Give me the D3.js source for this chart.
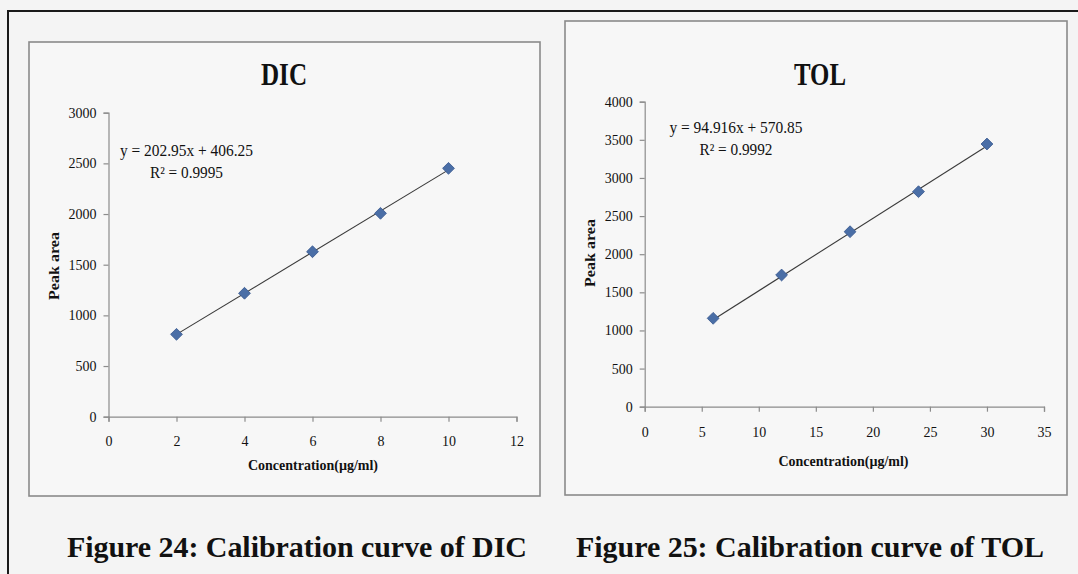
<!DOCTYPE html>
<html>
<head>
<meta charset="utf-8">
<title>Calibration curves</title>
<script src="https://cdn.jsdelivr.net/npm/d3@7"></script>
<style>
  body { margin: 0; background: #f4f4f4; }
  svg { display: block; }
  svg text { font-family: "Liberation Serif", "Times New Roman", serif; fill: #111; }
</style>
</head>
<body>
<script>
  // data
  var dicConc = [2, 4, 6, 8, 10],
    dicArea = [813, 1218, 1628, 2007, 2451],
    dicXTicks = [0, 2, 4, 6, 8, 10, 12],
    dicYTicks = [0, 500, 1000, 1500, 2000, 2500, 3000],
    dicFit = [202.95, 406.25, 0.9995]; // slope, intercept, R2

  var tolConc = [6, 12, 18, 24, 30],
    tolArea = [1159, 1727, 2295, 2820, 3445],
    tolXTicks = [0, 5, 10, 15, 20, 25, 30, 35],
    tolYTicks = [0, 500, 1000, 1500, 2000, 2500, 3000, 3500, 4000],
    tolFit = [94.916, 570.85, 0.9992];

  var width = 1078, height = 574,
    serif = '"Liberation Serif", "Times New Roman", serif';

  var svg = d3.select('body').append('svg')
    .attr('width', width)
    .attr('height', height);

  svg.append('rect')
    .attr('width', width).attr('height', height)
    .attr('fill', '#f4f4f4');

  // outer frame (top and left edge only visible)
  svg.append('path')
    .attr('d', 'M8,574V11H1078')
    .attr('fill', 'none')
    .attr('stroke', '#1a1a1a')
    .attr('stroke-width', 2);

  /**
   * draw one calibration panel
   */
  function drawPanel(p) {
    var g = svg.append('g').attr('font-family', serif);

    g.append('rect')
      .attr('x', p.box[0]).attr('y', p.box[1])
      .attr('width', p.box[2] - p.box[0])
      .attr('height', p.box[3] - p.box[1])
      .attr('fill', '#f7f7f7')
      .attr('stroke', '#8a8a8a')
      .attr('stroke-width', 1.6);

    var x = d3.scaleLinear()
      .domain(d3.extent(p.xTicks))
      .range(p.xRange);
    var y = d3.scaleLinear()
      .domain(d3.extent(p.yTicks))
      .range(p.yRange);

    var xAxis = d3.axisBottom(x).tickValues(p.xTicks)
      .tickFormat(d3.format('d'))
      .tickSize(5).tickPadding(p.xPad).tickSizeOuter(5);
    var yAxis = d3.axisLeft(y).tickValues(p.yTicks)
      .tickFormat(d3.format('d'))
      .tickSize(5).tickPadding(7).tickSizeOuter(5);

    var gx = g.append('g')
      .attr('transform', 'translate(0,' + p.yRange[0] + ')')
      .call(xAxis);
    var gy = g.append('g')
      .attr('transform', 'translate(' + p.xRange[0] + ',0)')
      .call(yAxis);

    [gx, gy].forEach(function (a) {
      a.attr('font-family', serif).attr('font-size', 14);
      a.selectAll('path, line').attr('stroke', '#8c8c8c').attr('stroke-width', 1.2);
      a.selectAll('text').attr('fill', '#222');
    });

    // trend line from fitted equation
    var fx = d3.extent(p.conc);
    var line = d3.line()
      .x(function (d) { return x(d); })
      .y(function (d) { return y(p.fit[0] * d + p.fit[1]); });
    g.append('path')
      .datum(fx)
      .attr('d', line)
      .attr('fill', 'none')
      .attr('stroke', '#3a3a3a')
      .attr('stroke-width', 1.1);

    // diamond markers
    g.selectAll('.pt')
      .data(p.conc)
      .join('path')
      .attr('class', 'pt')
      .attr('d', d3.symbol(d3.symbolSquare, 70))
      .attr('transform', function (d, i) {
        return 'translate(' + x(d) + ',' + y(p.area[i]) + ') rotate(45)';
      })
      .attr('fill', '#4a6ea6')
      .attr('stroke', '#3a5a90')
      .attr('stroke-width', 0.8);

    // title
    g.append('text')
      .attr('x', p.title[1]).attr('y', 85)
      .attr('text-anchor', 'middle')
      .attr('font-size', 32)
      .attr('font-weight', 'bold')
      .attr('textLength', p.title[2])
      .attr('lengthAdjust', 'spacingAndGlyphs')
      .text(p.title[0]);

    // equation
    g.append('text')
      .attr('x', p.eq[0]).attr('y', p.eq[1])
      .attr('text-anchor', 'middle')
      .attr('font-size', 16)
      .attr('textLength', 133)
      .attr('lengthAdjust', 'spacingAndGlyphs')
      .text('y = ' + p.fit[0] + 'x + ' + p.fit[1]);
    g.append('text')
      .attr('x', p.eq[0]).attr('y', p.eq[1] + 22)
      .attr('text-anchor', 'middle')
      .attr('font-size', 16)
      .attr('textLength', 73)
      .attr('lengthAdjust', 'spacingAndGlyphs')
      .text('R\u00b2 = ' + p.fit[2]);

    // axis titles
    g.append('text')
      .attr('x', p.xTitle[0]).attr('y', p.xTitle[1])
      .attr('text-anchor', 'middle')
      .attr('font-size', 15)
      .attr('font-weight', 'bold')
      .attr('textLength', 130)
      .attr('lengthAdjust', 'spacingAndGlyphs')
      .text('Concentration(\u00b5g/ml)');
    g.append('text')
      .attr('transform', 'translate(' + p.yTitle[0] + ',' + p.yTitle[1] + ') rotate(-90)')
      .attr('text-anchor', 'middle')
      .attr('font-size', 15)
      .attr('font-weight', 'bold')
      .attr('textLength', 68)
      .attr('lengthAdjust', 'spacingAndGlyphs')
      .text('Peak area');

    // caption under the panel
    svg.append('text')
      .attr('x', p.caption[1]).attr('y', 557)
      .attr('text-anchor', 'middle')
      .attr('font-family', serif)
      .attr('font-size', 30)
      .attr('font-weight', 'bold')
      .attr('textLength', p.caption[2])
      .attr('lengthAdjust', 'spacing')
      .text(p.caption[0]);
  }

  drawPanel({
    conc: dicConc, area: dicArea, fit: dicFit,
    xTicks: dicXTicks, yTicks: dicYTicks,
    box: [29, 42, 540, 496],
    xRange: [108.5, 516.5], yRange: [416.7, 112.7], xPad: 14,
    title: ['DIC', 284, 46],
    eq: [186.5, 156],
    xTitle: [313, 470], yTitle: [59, 266],
    caption: ['Figure 24: Calibration curve of DIC', 297, 460]
  });

  drawPanel({
    conc: tolConc, area: tolArea, fit: tolFit,
    xTicks: tolXTicks, yTicks: tolYTicks,
    box: [565, 21, 1067, 495],
    xRange: [644.7, 1044], yRange: [406.7, 101.7], xPad: 15,
    title: ['TOL', 820, 52],
    eq: [736, 133],
    xTitle: [843.5, 466], yTitle: [595, 253],
    caption: ['Figure 25: Calibration curve of TOL', 810, 468]
  });
</script>
</body>
</html>
